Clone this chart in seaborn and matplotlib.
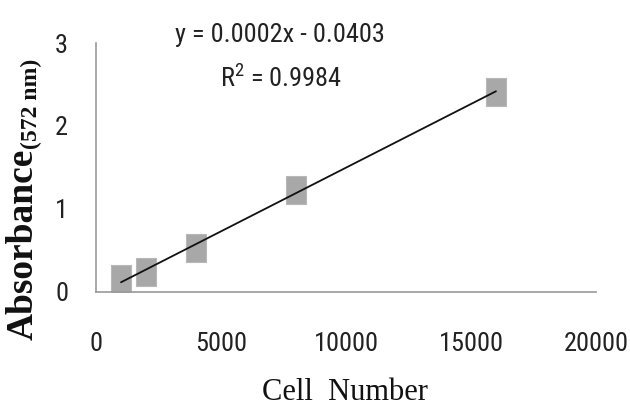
import numpy as np
import pandas as pd
import matplotlib
matplotlib.use("Agg")
import matplotlib.pyplot as plt
from matplotlib.path import Path
import seaborn as sns

cell_number = [1000, 2000, 4000, 8000, 16000]
absorbance = [0.155, 0.24, 0.52, 1.23, 2.41]
x_ticks = [0, 5000, 10000, 15000, 20000]
y_ticks = [0, 1, 2, 3]
equation_text = "y = 0.0002x - 0.0403"
r2_text = "R$^2$ = 0.9984"

sns.set_theme(style="white")
plt.rcParams['font.family'] = ['Roboto Condensed', 'DejaVu Sans']
plt.rcParams['mathtext.fontset'] = 'custom'
plt.rcParams['mathtext.rm'] = 'Roboto Condensed'

df = pd.DataFrame({"cells": cell_number, "abs": absorbance})
slope, intercept = np.polyfit(cell_number, absorbance, 1)
fit_x = [min(cell_number), max(cell_number)]
fit_df = pd.DataFrame({"cells": fit_x, "abs": [slope * v + intercept for v in fit_x]})

fig = plt.figure(figsize=(6.3, 4.08), dpi=100)
ax = fig.add_axes([0.1524, 0.2855, 0.7936, 0.6091])

rect = Path([(-0.36, -0.5), (0.36, -0.5), (0.36, 0.5), (-0.36, 0.5), (-0.36, -0.5)],
            [Path.MOVETO, Path.LINETO, Path.LINETO, Path.LINETO, Path.CLOSEPOLY])
sns.scatterplot(data=df, x="cells", y="abs", ax=ax, marker=rect, s=410,
                color="#a8a8a8", edgecolor="#b8b8b8", linewidth=0.8, zorder=2)
sns.lineplot(data=fit_df, x="cells", y="abs", ax=ax, color="#111111", linewidth=1.3, zorder=3)

ax.set_xlim(0, 20000)
ax.set_ylim(0, 3)
ax.set_xticks(x_ticks)
ax.set_yticks(y_ticks)
ax.set_xticklabels([str(t) for t in x_ticks], fontsize=19, color="#222222")
ax.set_yticklabels([str(t) for t in y_ticks], fontsize=19, color="#222222")
for s in ["top", "right"]:
    ax.spines[s].set_visible(False)
for s in ["left", "bottom"]:
    ax.spines[s].set_color("#9a9a9a")
    ax.spines[s].set_linewidth(1.2)
ax.tick_params(axis="x", direction="out", length=8, width=1.2, color="#9a9a9a", pad=21)
ax.tick_params(axis="y", direction="out", length=7, width=1.2, color="#9a9a9a", pad=13)
ax.grid(False)

ax.set_xlabel("")
ax.set_ylabel("")
fig.text(0.548, 0.002, "Cell  Number", fontsize=22, family="Liberation Serif",
         ha="center", va="bottom", color="#111111")
fig.text(0.064, 0.167, "Absorbance", fontsize=27, fontweight="bold", family="Liberation Serif",
         rotation=90, ha="right", va="bottom", color="#111111")
fig.text(0.066, 0.635, "(572 nm)", fontsize=17, fontweight="bold", family="Liberation Serif",
         rotation=90, ha="right", va="bottom", color="#111111")

fig.text(0.444, 1 - 42 / 408, equation_text, fontsize=19, ha="center", va="baseline", color="#222222")
fig.text(0.446, 1 - 87 / 408, r2_text, fontsize=19, ha="center", va="baseline", color="#222222")

fig.savefig("out.png", dpi=100)
